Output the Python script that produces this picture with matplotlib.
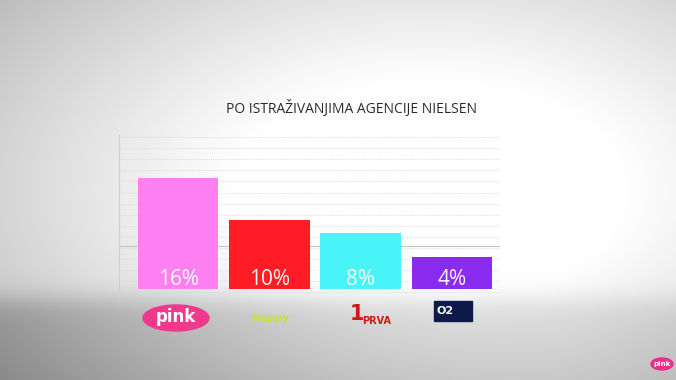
import numpy as np
import matplotlib
matplotlib.use("Agg")
import matplotlib.pyplot as plt
from matplotlib.patches import FancyBboxPatch, Ellipse

channels = ["pink", "happy", "1PRVA", "O2"]
values = [16, 10, 8, 4.6]
labels = ["16%", "10%", "8%", "4%"]
colors = ["#ff80f2", "#ff1c24", "#48f4f8", "#8a2cf0"]
title = "PO ISTRAŽIVANJIMA AGENCIJE NIELSEN"

W, H = 676, 380
fig = plt.figure(figsize=(W / 100, H / 100), dpi=100)

# background gradient
bg = fig.add_axes([0, 0, 1, 1])
yy, xx = np.mgrid[0:H, 0:W]
r = np.sqrt(((xx - 430) / 480.0) ** 2 + ((yy - 190) / 270.0) ** 2)
val = 1.0 - 0.36 * np.clip(r - 0.4, 0, None) ** 1.1
band = 1.0 / (1 + np.exp(-(yy - 298) / 7.0))
left = np.clip((560 - xx) / 560.0, 0, 1)
val = val - band * (0.10 + 0.10 * left)
val = np.clip(val, 0, 1)
img = np.dstack([val, val, val])
bg.imshow(img, extent=[0, W, H, 0], aspect="auto")
bg.set_xlim(0, W)
bg.set_ylim(H, 0)
bg.axis("off")

# data axes
x0, x1 = 119, 500
ytop, ybot = 135, 302
ax = fig.add_axes([x0 / W, 1 - ybot / H, (x1 - x0) / W, (ybot - ytop) / H])
ax.patch.set_alpha(0)
px_per = 6.94
ax.set_ylim(-(302 - 289) / px_per, (289 - 135) / px_per)
ax.set_xlim(-0.65, 3.53)
xs = np.arange(len(values))
ax.bar(xs, values, width=0.88, color=colors, zorder=3)
for x, v, lab in zip(xs, values, labels):
    ax.text(x, 1.3, lab, ha="center", va="center", color="white",
            fontsize=15, family="Open Sans", zorder=4, alpha=0.95)
for gy in np.arange(-0.5, 22.3, 1.6):
    ax.axhline(gy, color="#d4d4d4", lw=0.6, ls=(0, (1, 1.5)), zorder=1)
ax.axhline(6.2, color="#c4c4c4", lw=0.8, zorder=1)
for s in ["top", "right", "bottom"]:
    ax.spines[s].set_visible(False)
ax.spines["left"].set_color("#d0d0d0")
ax.spines["left"].set_linewidth(0.8)
ax.set_xticks([])
ax.set_yticks([])

# title
bg.text(351, 108, title, ha="center", va="center", fontsize=10,
        color="#2a2a2a", family="Open Sans")

# logos (approximated as text)
bg.add_patch(Ellipse((176, 318), 66, 26, color="#f0388f", zorder=3))
bg.text(176, 317, "pink", ha="center", va="center", color="white",
        fontsize=12, fontweight="bold", family="DejaVu Sans", zorder=4)
bg.text(270, 318, "happy", ha="center", va="center", color="#c8e040",
        fontsize=8, fontweight="bold", family="DejaVu Sans", zorder=4)
bg.text(357, 314, "1", ha="center", va="center", color="#d01818",
        fontsize=15, fontweight="bold", family="DejaVu Sans", zorder=4)
bg.text(362, 321, "PRVA", ha="left", va="center", color="#d01818",
        fontsize=7, fontweight="bold", family="DejaVu Sans", zorder=4)
bg.add_patch(FancyBboxPatch((434, 301), 38, 20, boxstyle="square,pad=0",
                            color="#0d1a4a", zorder=3))
bg.text(445, 311, "O2", ha="center", va="center", color="white",
        fontsize=8, fontweight="bold", family="DejaVu Sans", zorder=4)
bg.add_patch(Ellipse((662, 364), 22, 12, color="#e8308a", zorder=3))
bg.text(662, 364, "pink", ha="center", va="center", color="white",
        fontsize=5, fontweight="bold", zorder=4)

fig.savefig("out.png", dpi=100)
